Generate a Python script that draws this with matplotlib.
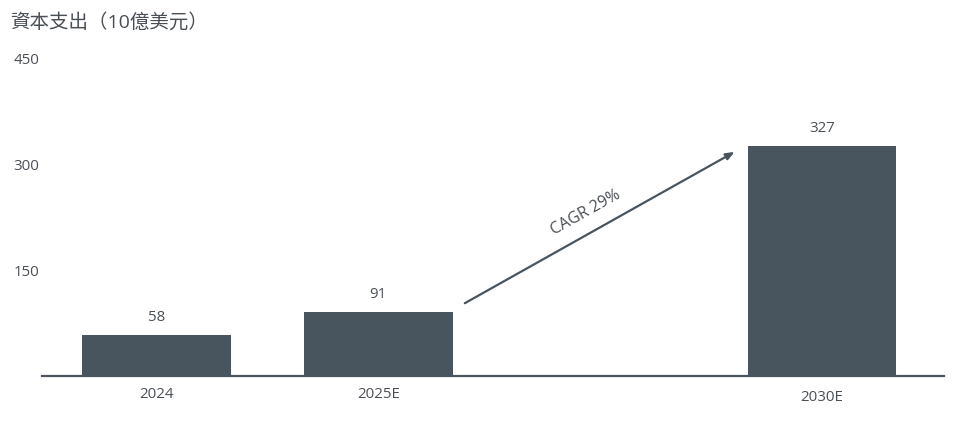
import matplotlib
matplotlib.use("Agg")
import matplotlib.pyplot as plt
import matplotlib.transforms as mtransforms

plt.rcParams['font.family'] = ['Open Sans', 'Noto Sans CJK TC', 'DejaVu Sans']

categories = ["2024", "2025E", "2030E"]
positions = [0, 1, 3]
values = [58, 91, 327]
yticks = [150, 300, 450]
title = "資本支出（10億美元）"
cagr_label = "CAGR 29%"

bar_color = "#48545e"
text_color = "#4a4f55"

fig = plt.figure(figsize=(9.6, 4.46), dpi=100)
ax = fig.add_axes([42/960, (446-375.7)/446, (944-42)/960, (375.7-59)/446])

ax.bar(positions, values, width=0.67, color=bar_color, zorder=2)
ax.set_xlim(-0.516, 3.55)
ax.set_ylim(0, 450)

for s in ["top", "right", "left"]:
    ax.spines[s].set_visible(False)
ax.spines["bottom"].set_color(bar_color)
ax.spines["bottom"].set_linewidth(1.6)

ax.set_yticks(yticks)
ax.set_yticklabels([str(t) for t in yticks])
ax.tick_params(axis="y", length=0, pad=4, labelsize=10.8, labelcolor=text_color)
ax.set_xticks(positions)
ax.set_xticklabels(categories)
ax.tick_params(axis="x", length=0, pad=8, labelsize=10.8, labelcolor=text_color)
for lbl in ax.get_yticklabels():
    lbl.set_horizontalalignment("left")
    lbl.set_transform(lbl.get_transform() + mtransforms.ScaledTranslation(-23/100, 0, fig.dpi_scale_trans))
last = ax.get_xticklabels()[-1]
last.set_transform(last.get_transform() + mtransforms.ScaledTranslation(0, -3/100, fig.dpi_scale_trans))

for x, v in zip(positions, values):
    ax.annotate(str(v), (x, v), xytext=(0, 7), textcoords="offset points",
                ha="center", va="bottom", fontsize=10.8, color=text_color)

# CAGR arrow
ax.annotate("", xy=(2.606, 318), xytext=(1.39, 103),
            arrowprops=dict(arrowstyle="-|>,head_length=0.5,head_width=0.2",
                            color=bar_color, lw=1.6, shrinkA=0, shrinkB=0))
ax.text(1.935, 231, cagr_label, rotation=29.2, rotation_mode="anchor",
        ha="center", va="center", fontsize=11.5, color=text_color)

fig.text(10/960, 1 - 22/446, title, ha="left", va="center", fontsize=14, color=text_color)

fig.savefig("out.png", dpi=100)
